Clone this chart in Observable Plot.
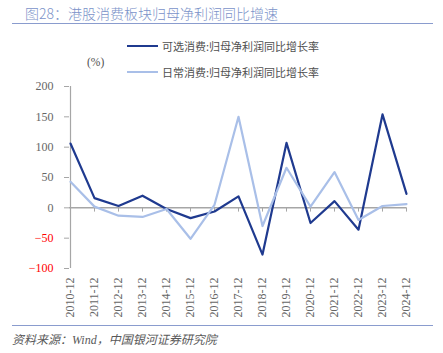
<!DOCTYPE html>
<html><head><meta charset="utf-8">
<script src="https://cdn.jsdelivr.net/npm/d3@7"></script>
<script src="https://cdn.jsdelivr.net/npm/@observablehq/plot@0.6"></script>
<style>
body{margin:0;background:#fff;}
#wrap{position:relative;width:443px;height:353px;overflow:hidden;font-family:"Noto Sans CJK SC",sans-serif;}
#title{position:absolute;left:25px;top:3px;font-size:14px;color:#7b93c9;white-space:nowrap;font-weight:300;}
.hr{position:absolute;left:12px;width:421px;height:0;border-top:1.5px solid #8a9cce;}
.leg{position:absolute;left:127px;font-size:11px;color:#505050;white-space:nowrap;display:flex;align-items:center;}
.leg span.sw{display:inline-block;width:31px;height:0;border-top:2px solid;margin-right:4px;}
#unit{position:absolute;left:87px;top:56px;font-family:"Liberation Serif",serif;font-size:11.5px;color:#505050;}
#src{position:absolute;left:12px;top:330px;font-size:12px;font-style:italic;color:#595959;white-space:nowrap;}
#chart{position:absolute;left:0;top:0;font-family:"Liberation Serif",serif;}
#chart svg, #chart svg *{font-family:"Liberation Serif",serif !important;}
</style></head>
<body>
<div id="wrap">
  <div id="chart"></div>
  <div id="title">图28：港股消费板块归母净利润同比增速</div>
  <div class="hr" style="top:23px"></div>
  <div id="legend"></div>
  <div id="unit">(%)</div>
  <div class="hr" style="top:325px"></div>
  <div id="src">资料来源：<span style="font-family:'Liberation Serif',serif">Wind</span>，中国银河证券研究院</div>
</div>
<script>
const years = ["2010-12","2011-12","2012-12","2013-12","2014-12","2015-12","2016-12","2017-12","2018-12","2019-12","2020-12","2021-12","2022-12","2023-12","2024-12"];
const seriesNames = ["可选消费:归母净利润同比增长率","日常消费:归母净利润同比增长率"];
const seriesColors = ["#1f3a8f","#a9bfe8"];
const discretionary = [106, 16, 3, 20, -2, -17, -6, 19, -77, 107, -25, 11, -36, 154, 23];
const staples = [43, 2, -13, -15, -2, -51, 5, 150, -30, 66, 2, 59, -20, 3, 6];
const yTicksPos = [0, 50, 100, 150, 200];
const yTicksNeg = [-50, -100];

const data = [];
years.forEach((y,i)=>{
  data.push({year:y, value:discretionary[i], s:seriesNames[0]});
  data.push({year:y, value:staples[i], s:seriesNames[1]});
});

const chart = Plot.plot({
  width: 443, height: 325,
  marginLeft: 69, marginRight: 37, marginTop: 86, marginBottom: 57,
  style: {fontFamily: '"Liberation Serif", serif', fontSize: "12px", background: "transparent"},
  x: {type: "point", domain: years, padding: 0},
  y: {domain: [-100, 200]},
  color: {domain: seriesNames, range: seriesColors},
  marks: [
    Plot.ruleX([years[0]], {y1: -100, y2: 200, stroke: "#a6a6a6", strokeWidth: 1.2}),
    Plot.ruleY([0], {stroke: "#a6a6a6", strokeWidth: 1.5}),
    Plot.ruleX(years.slice(1), {y1: 0, y2: -7, stroke: "#a6a6a6", strokeWidth: 1}),
    Plot.axisY({ticks: yTicksPos, tickSize: 5, tickPadding: 11, stroke: "#a6a6a6", fill: "#666666", label: null}),
    Plot.axisY({ticks: yTicksNeg, tickSize: 5, tickPadding: 11, stroke: "#a6a6a6", fill: "#ff0000", label: null}),
    Plot.axisX({anchor: "bottom", tickSize: 0, tickPadding: 9, tickRotate: -90, fill: "#666666", label: null}),
    Plot.lineY(data, {x: "year", y: "value", z: "s", stroke: "s", strokeWidth: 2.2})
  ]
});
chart.removeAttribute("font-family");
d3.select(chart).selectAll("g, text").each(function(){
  this.removeAttribute("font-family");
  this.style.setProperty("font-family", '"Liberation Serif", serif', "important");
});
document.getElementById("chart").appendChild(chart);

const leg = document.getElementById("legend");
seriesNames.forEach((n,i)=>{
  const d = document.createElement("div");
  d.className = "leg";
  d.style.top = (38 + i*26) + "px";
  d.innerHTML = `<span class="sw" style="border-color:${seriesColors[i]}"></span>${n}`;
  leg.appendChild(d);
});
</script>
</body></html>
